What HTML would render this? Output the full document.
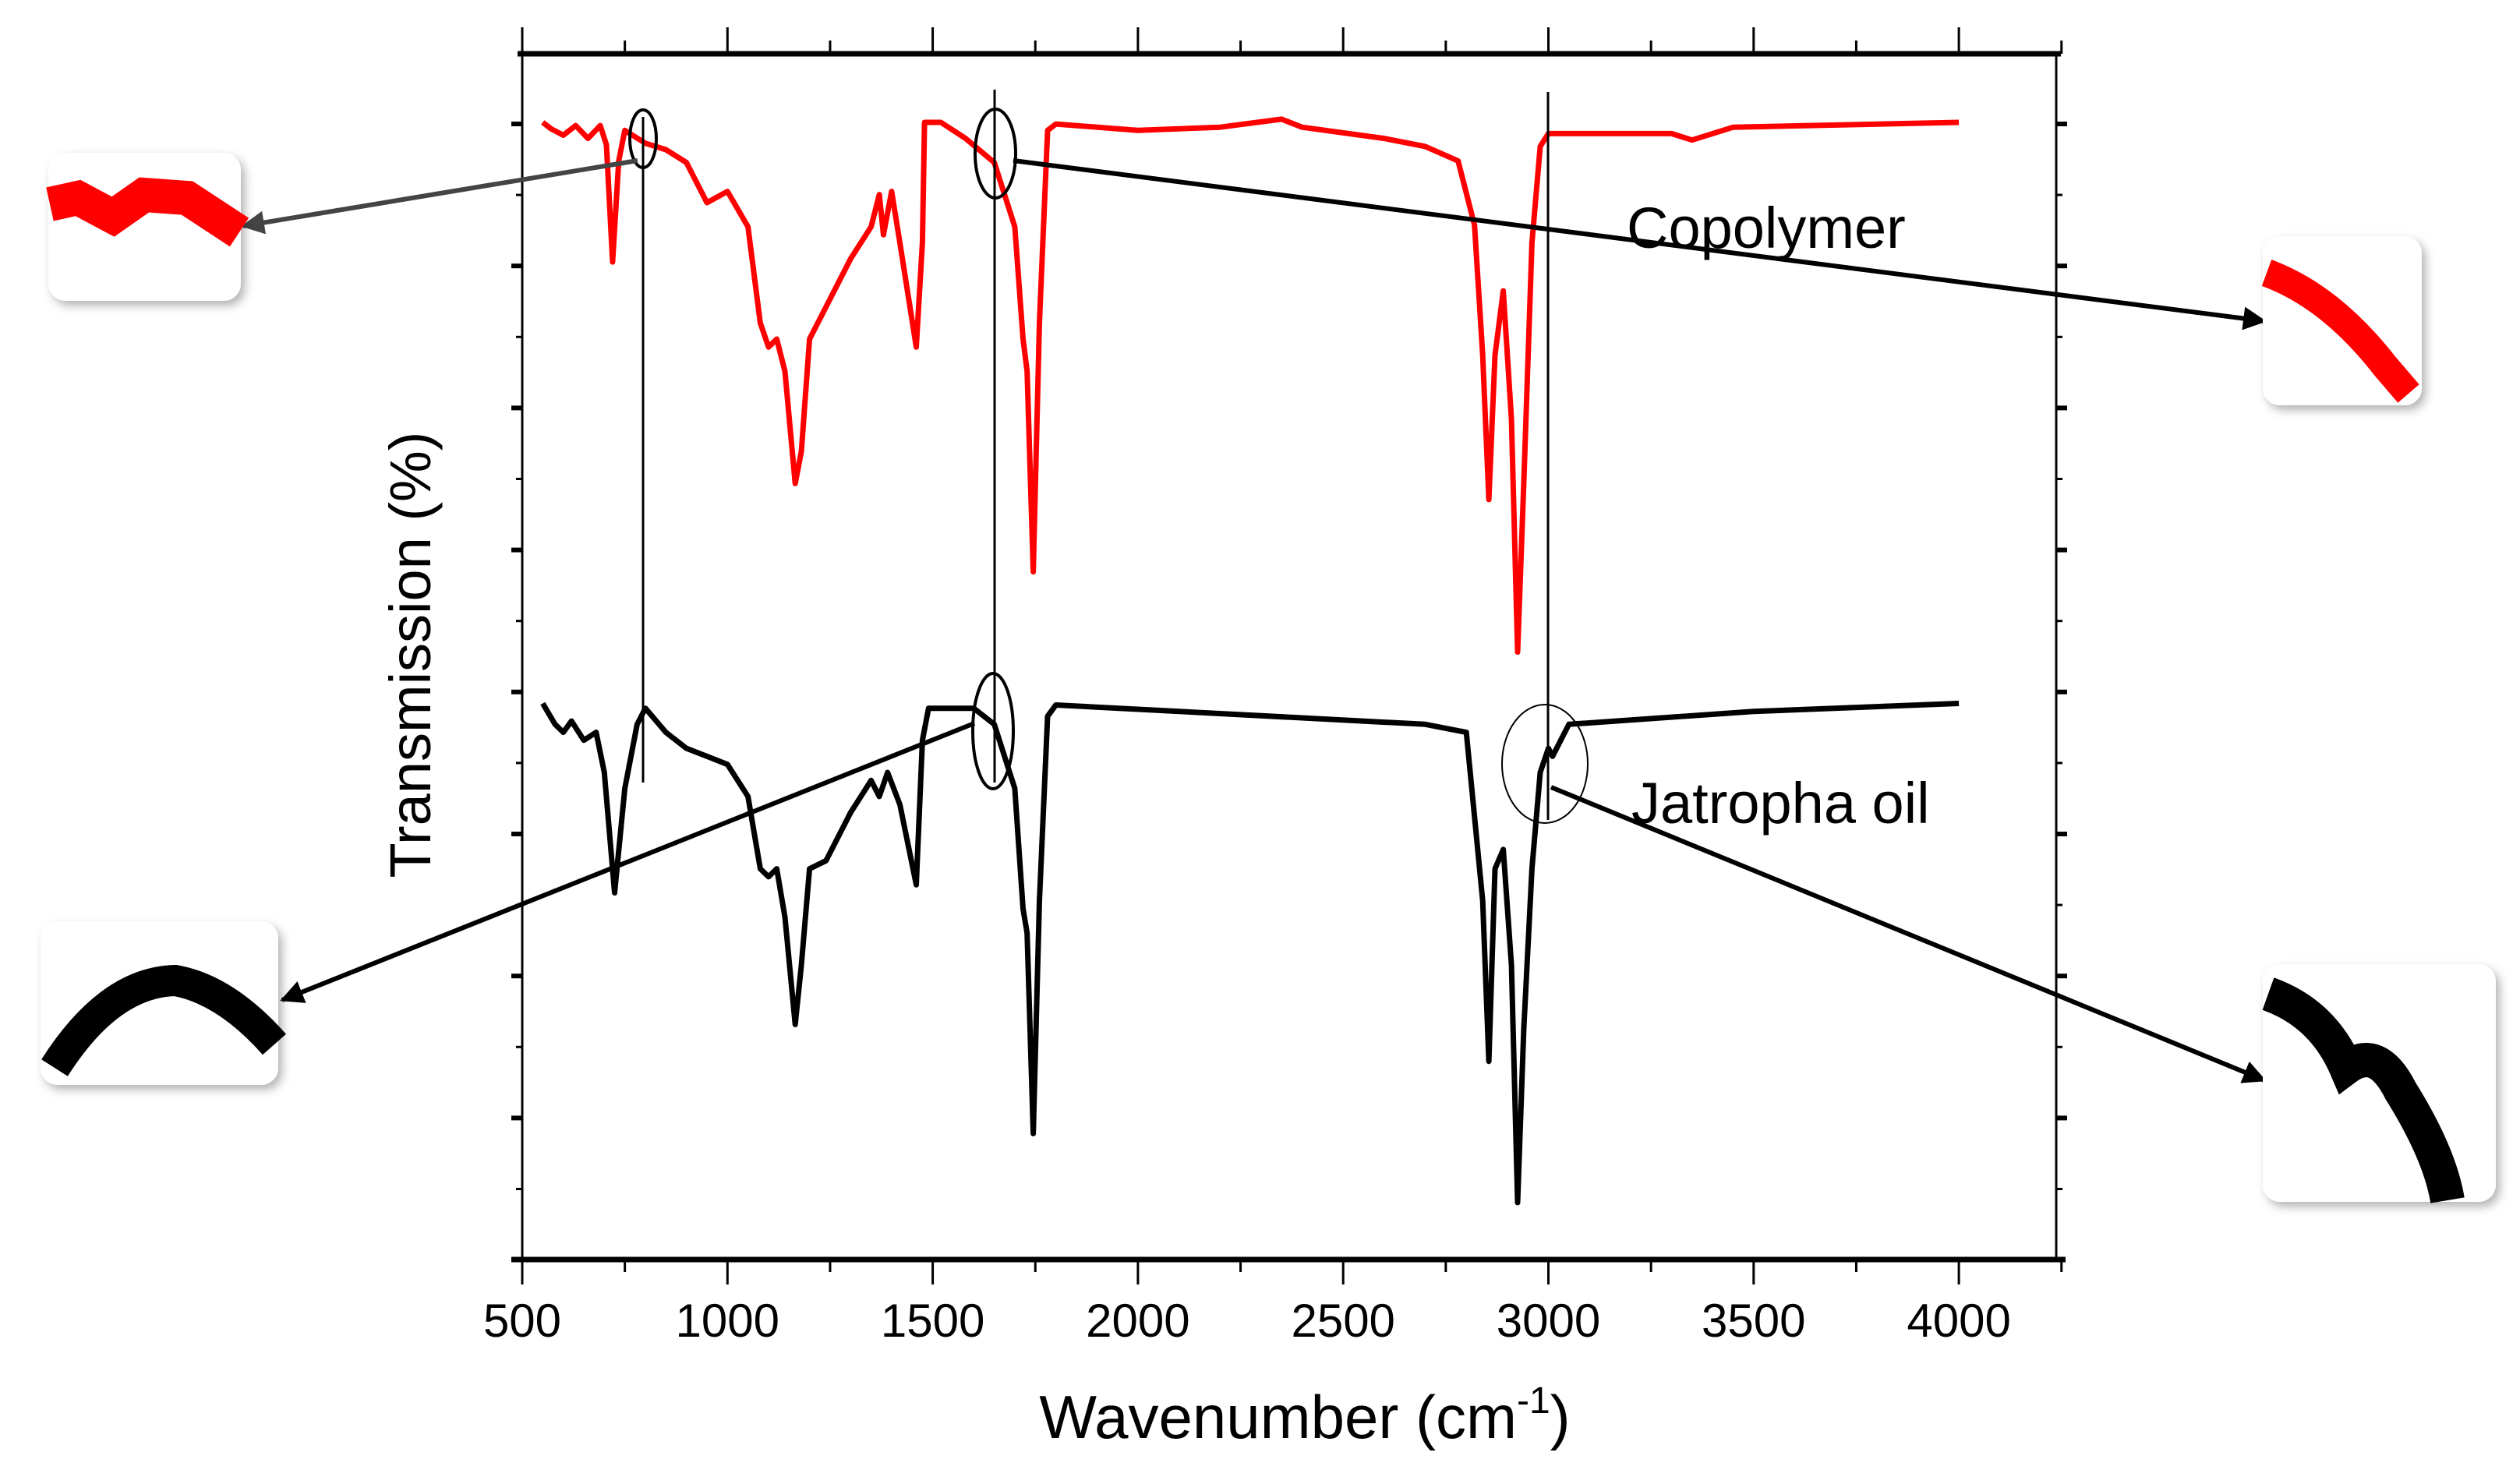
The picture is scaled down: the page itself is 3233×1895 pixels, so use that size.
<!DOCTYPE html>
<html><head><meta charset="utf-8"><style>
body{margin:0;background:#fff;}
svg{display:block;font-family:"Liberation Sans",sans-serif;}
</style></head><body>
<svg id="chart" width="3233" height="1895" viewBox="0 0 3233 1895" xmlns="http://www.w3.org/2000/svg">
<defs>
<marker id="ah" viewBox="0 0 10 10" refX="9" refY="5" markerWidth="5" markerHeight="5" orient="auto"><path d="M0,0 L10,5 L0,10 z" fill="#000"/></marker>
<marker id="ahg" viewBox="0 0 10 10" refX="9" refY="5" markerWidth="5" markerHeight="5" orient="auto"><path d="M0,0 L10,5 L0,10 z" fill="#444"/></marker>
<filter id="sh" x="-20%" y="-20%" width="150%" height="150%"><feDropShadow dx="5" dy="6" stdDeviation="6" flood-color="#000" flood-opacity="0.3"/></filter>
</defs>
<g id="axes"></g>
<g id="series"></g>
<g id="annot">
 <line x1="825" y1="150" x2="825" y2="1004" stroke="#000" stroke-width="3"/>
 <line x1="1276" y1="115" x2="1276" y2="1004" stroke="#000" stroke-width="3"/>
 <line x1="1986" y1="118" x2="1986" y2="1052" stroke="#000" stroke-width="3"/>
 <ellipse cx="825" cy="178" rx="17" ry="37" fill="none" stroke="#000" stroke-width="4"/>
 <ellipse cx="1277" cy="197" rx="26" ry="57" fill="none" stroke="#000" stroke-width="4"/>
 <ellipse cx="1274" cy="938" rx="26" ry="74" fill="none" stroke="#000" stroke-width="4"/>
 <ellipse cx="1982" cy="980" rx="55" ry="76" fill="none" stroke="#000" stroke-width="2"/>
 <line x1="818" y1="206" x2="312" y2="290" stroke="#444" stroke-width="6" marker-end="url(#ahg)"/>
 <line x1="1300" y1="206" x2="2905" y2="412" stroke="#000" stroke-width="6" marker-end="url(#ah)"/>
 <line x1="1250" y1="928" x2="362" y2="1283" stroke="#000" stroke-width="6" marker-end="url(#ah)"/>
 <line x1="1990" y1="1010" x2="2905" y2="1386" stroke="#000" stroke-width="6" marker-end="url(#ah)"/>
 <text x="2087" y="318" font-size="74" fill="#000">Copolymer</text>
 <text x="2093" y="1056" font-size="74" fill="#000">Jatropha oil</text>
</g>
<g>
 <g>
  <rect x="62" y="196" width="247" height="190" rx="22" fill="#fff" filter="url(#sh)"/>
  <path d="M64,262 L100,254 L145,278 L185,250 L240,254 L307,298" fill="none" stroke="#f00" stroke-width="44"/>
 </g>
 <g>
  <rect x="2903" y="303" width="204" height="217" rx="22" fill="#fff" filter="url(#sh)"/>
  <path d="M2908,350 Q2990,380 3060,470 L3090,505" fill="none" stroke="#f00" stroke-width="36"/>
 </g>
 <g>
  <rect x="52" y="1182" width="305" height="210" rx="22" fill="#fff" filter="url(#sh)"/>
  <path d="M70,1370 Q140,1260 225,1258 Q290,1270 352,1340" fill="none" stroke="#000" stroke-width="40"/>
 </g>
 <g>
  <rect x="2903" y="1237" width="299" height="305" rx="22" fill="#fff" filter="url(#sh)"/>
  <path d="M2910,1275 Q2980,1300 3010,1370 Q3050,1340 3080,1400 Q3130,1480 3140,1540" fill="none" stroke="#000" stroke-width="44"/>
 </g>
</g>
<text x="1674" y="1845" font-size="78" text-anchor="middle" fill="#000">Wavenumber (cm<tspan font-size="48" dy="-32">-1</tspan><tspan dy="32">)</tspan></text>
<text transform="translate(552,840) rotate(-90)" font-size="74" text-anchor="middle" fill="#000">Transmission (%)</text>
</svg>
<script>
const redWave = [550,570,600,630,660,690,705,720,735,750,800,850,900,950,1000,1050,1080,1100,1120,1140,1165,1180,1200,1240,1300,1350,1370,1380,1400,1420,1460,1475,1480,1520,1580,1650,1700,1720,1730,1745,1760,1780,1800,2000,2200,2350,2400,2600,2700,2780,2820,2840,2855,2870,2890,2910,2925,2940,2960,2980,3000,3300,3350,3450,4000];
const redValues = [674,670,666,672,664,672,660,587,650,669,661,657,649,624,631,609,549,534,539,519,449,469,539,559,589,609,629,604,631,599,534,599,674,674,664,649,609,539,519,394,549,669,673,669,671,676,671,664,659,650,610,529,439,529,569,489,344,449,599,659,667,667,663,671,674];
const blackWave = [550,580,600,620,650,680,700,725,750,780,800,850,900,950,1000,1050,1080,1100,1120,1140,1165,1180,1200,1240,1300,1350,1370,1390,1420,1460,1475,1490,1600,1650,1700,1720,1730,1745,1760,1780,1800,2700,2800,2840,2855,2870,2890,2910,2925,2940,2960,2980,3000,3010,3050,3500,4000];
const blackValues = [312,299,294,301,289,294,269,194,259,299,309,294,284,279,274,254,209,204,209,179,112,149,209,214,244,264,254,269,249,199,289,309,309,299,259,184,169,44,189,304,311,299,294,189,89,209,221,149,1,109,209,269,284,279,299,307,312];
const xTicks = [500,1000,1500,2000,2500,3000,3500,4000];
const xTickLabels = ["500","1000","1500","2000","2500","3000","3500","4000"];

const NS="http://www.w3.org/2000/svg";
const X0=670, XPER=263.3/500, YB=1545, YPER=1388/674;
function xs(w){return X0+(w-500)*XPER;}
function ys(v){return YB-v*YPER;}
function mk(tag,attrs,parent){const e=document.createElementNS(NS,tag);for(const k in attrs)e.setAttribute(k,attrs[k]);parent.appendChild(e);return e;}
const axes=document.getElementById('axes');
const L=670,R=2638,T=69,B=1616;
let e;
e=mk('line',{x1:L,y1:T,x2:L,y2:B,stroke:'#000','stroke-width':3},axes);


e=mk('line',{x1:R,y1:T,x2:R,y2:B,stroke:'#000','stroke-width':3},axes);


e=mk('line',{x1:L-14,y1:B,x2:R+12,y2:B,stroke:'#000','stroke-width':7},axes);


e=mk('line',{x1:L-6,y1:T,x2:R+6,y2:T,stroke:'#000','stroke-width':7},axes);


for(let w=500;w<=4250;w+=250){
  const major=(w%500===0);const x=xs(w);
  e=mk('line',{x1:x,y1:B,x2:x,y2:B+(major?32:16),stroke:'#000','stroke-width':3},axes);
  
  
  e=mk('line',{x1:x,y1:T,x2:x,y2:T-(major?34:17),stroke:'#000','stroke-width':3},axes);
  
  
}
xTicks.forEach((w,i)=>{
  const t=mk('text',{x:xs(w),y:1715,'font-size':60,'text-anchor':'middle',fill:'#000'},axes);
  t.textContent=xTickLabels[i];
  
  
});
for(let i=0;i<16;i++){
  const y=159+i*91.1;const major=(i%2===0);
  e=mk('line',{x1:L,y1:y,x2:L-(major?14:8),y2:y,stroke:'#000','stroke-width':major?6:3},axes);
  
  
  e=mk('line',{x1:R,y1:y,x2:R+(major?14:8),y2:y,stroke:'#000','stroke-width':major?6:3},axes);
  
  
}
const ser=document.getElementById('series');
function line(wave,vals,color,name){
  const d=wave.map((w,i)=>(i?'L':'M')+xs(w).toFixed(1)+','+ys(vals[i]).toFixed(1)).join(' ');
  const p=mk('path',{d:d,fill:'none',stroke:color,'stroke-width':7,'stroke-linejoin':'round'},ser);
  
  
}
line(redWave,redValues,'#f00','copolymer-spectrum');
line(blackWave,blackValues,'#000','jatropha-oil-spectrum');
</script>
</body></html>
